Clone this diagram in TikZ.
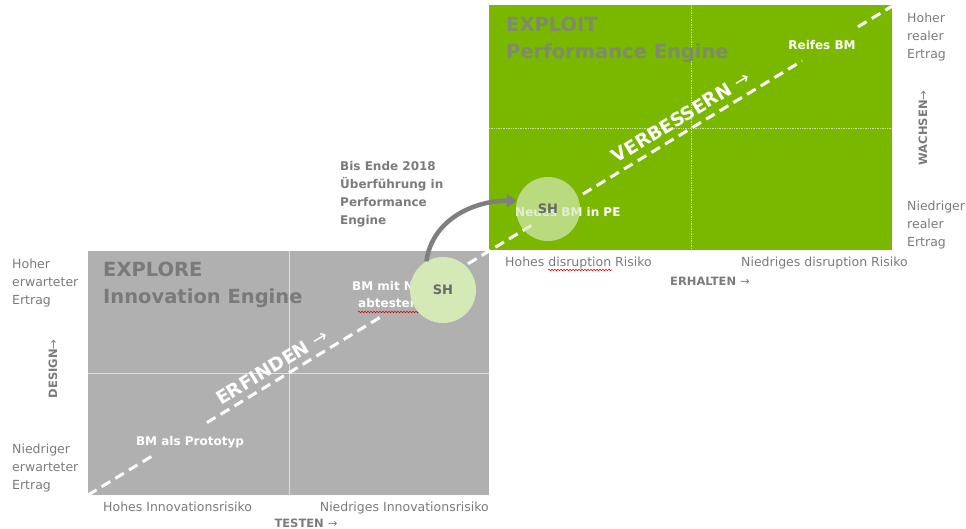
\documentclass[tikz,border=0pt]{standalone}
\usepackage{fontspec}
\setmainfont{DejaVu Sans}
\usetikzlibrary{arrows.meta,decorations.pathmorphing}

\definecolor{enginegreen}{HTML}{7AB800}
\definecolor{enginegrey}{HTML}{B0B0B0}
\definecolor{titlegrey}{HTML}{7A7A7A}
\definecolor{titleongreen}{HTML}{7F8A6E}
\definecolor{shgreen}{HTML}{D5E9B6}
\definecolor{arrowgrey}{HTML}{7F7F7F}
\definecolor{labelgrey}{HTML}{7B7B7B}

\tikzset{
  axislabel/.style={font=\fontsize{12.5}{18}\selectfont, text=labelgrey, inner sep=0pt, align=left},
  axisname/.style={font=\bfseries\fontsize{11.5}{14}\selectfont, text=labelgrey, inner sep=0pt},
  enginetitle/.style={font=\bfseries\fontsize{19.5}{27}\selectfont, inner sep=0pt, align=left, anchor=north west},
  bmtext/.style={font=\bfseries\fontsize{12}{17}\selectfont, text=white, inner sep=0pt},
  pathtext/.style={font=\bfseries\fontsize{18.5}{20}\selectfont, text=white, inner sep=0pt, rotate=31.3},
  pathline/.style={white, line width=3pt, dash pattern=on 10pt off 6pt},
  gridline/.style={white, opacity=.6, line width=.7pt},
  shcircle/.style={circle, minimum size=66pt, inner sep=0pt, font=\bfseries\fontsize{13}{15}\selectfont, text=labelgrey!85!black},
  squiggle/.style={red!85!black, line width=.5pt, decorate, decoration={snake, amplitude=.8pt, segment length=3pt}}
}

\begin{document}
\begin{tikzpicture}[x=1pt,y=-1pt]
  \useasboundingbox (0,0) rectangle (966,529);
  % Innovation Engine quadrant
  \fill[enginegrey] (88,251) rectangle (489,495);
  \draw[gridline] (289,251) -- (289,495) (88,373) -- (489,373);
  % Performance Engine quadrant
  \fill[enginegreen] (489,5) rectangle (892,250);
  \draw[gridline, densely dotted] (691,5) -- (691,250) (489,128) -- (892,128);
  % path of the business model
  \draw[pathline] (88,495) -- (153,455.5);
  \draw[pathline] (207,422.6) -- (383,315.6);
  \draw[pathline] (468,263.8) -- (532,225);
  \draw[pathline] (583,194) -- (802,60.9);
  \draw[pathline] (858,26.8) -- (892,6.2);
  % titles
  \node[enginetitle, text=titlegrey] (explore) at (103,262) {EXPLORE\\Innovation Engine};
  \node[enginetitle, text=titleongreen] (exploit) at (506,17) {EXPLOIT\\Performance Engine};
  % stages
  \node[bmtext] (prototyp) at (190,442) {BM als Prototyp};
  \node[bmtext, align=left, anchor=base west] (abtesten) at (352,307) {BM mit Nutzern\\\hspace*{6pt}abtesten};
  \draw[squiggle] (358,312) -- (440,312);
  \node[bmtext, anchor=base west] (neues) at (515,217) {Neues BM in PE};
  \node[bmtext] (reifes) at (822,45) {Reifes BM};
  \node[pathtext] (erfinden) at (272,367) {ERFINDEN {\mdseries →}};
  \node[pathtext] (verbessern) at (681,117) {VERBESSERN {\mdseries →}};
  % SH circles and transfer
  \node[shcircle, fill=shgreen] (sh1) at (443,290) {SH};
  \node[shcircle, fill=shgreen, fill opacity=.7, text opacity=1, minimum size=64pt] (sh2) at (548,209) {\raisebox{-3pt}{SH}};
  \draw[arrowgrey, line width=4.5pt, -{Triangle[length=10pt,width=13pt]}] (sh1.120) to[out=82, in=180] (sh2.165);
  \node[font=\bfseries\fontsize{12}{18}\selectfont, text=labelgrey, inner sep=0pt, align=left, anchor=north west] (ueberfuehrung) at (340,161) {Bis Ende 2018\\Überführung in\\Performance\\Engine};
  % axes
  \node[axislabel, anchor=north west] (hoch-erwartet) at (12,259) {Hoher\\erwarteter\\Ertrag};
  \node[axislabel, anchor=north west] (niedrig-erwartet) at (12,444) {Niedriger\\erwarteter\\Ertrag};
  \node[axislabel, anchor=north west] (hoch-real) at (907,13) {Hoher\\realer\\Ertrag};
  \node[axislabel, anchor=north west] (niedrig-real) at (907,201) {Niedriger\\realer\\Ertrag};
  \node[axislabel, anchor=base west] (hohes-innovation) at (103,511) {Hohes Innovationsrisiko};
  \node[axislabel, anchor=base east] (niedriges-innovation) at (489,511) {Niedriges Innovationsrisiko};
  \node[axislabel, anchor=base west] (hohes-disruption) at (505,267) {Hohes disruption Risiko};
  \draw[squiggle] (548,270) -- (612,270);
  \node[axislabel, anchor=base east] (niedriges-disruption) at (908,267) {Niedriges disruption Risiko};
  \node[axisname, anchor=base] (testen) at (306,527) {TESTEN {\mdseries →}};
  \node[axisname, anchor=base] (erhalten) at (710,285) {ERHALTEN {\mdseries →}};
  \node[axisname, rotate=90] (design) at (53,369) {DESIGN{\mdseries →}};
  \node[axisname, rotate=90] (wachsen) at (923,128) {WACHSEN{\mdseries →}};
\end{tikzpicture}
\end{document}
